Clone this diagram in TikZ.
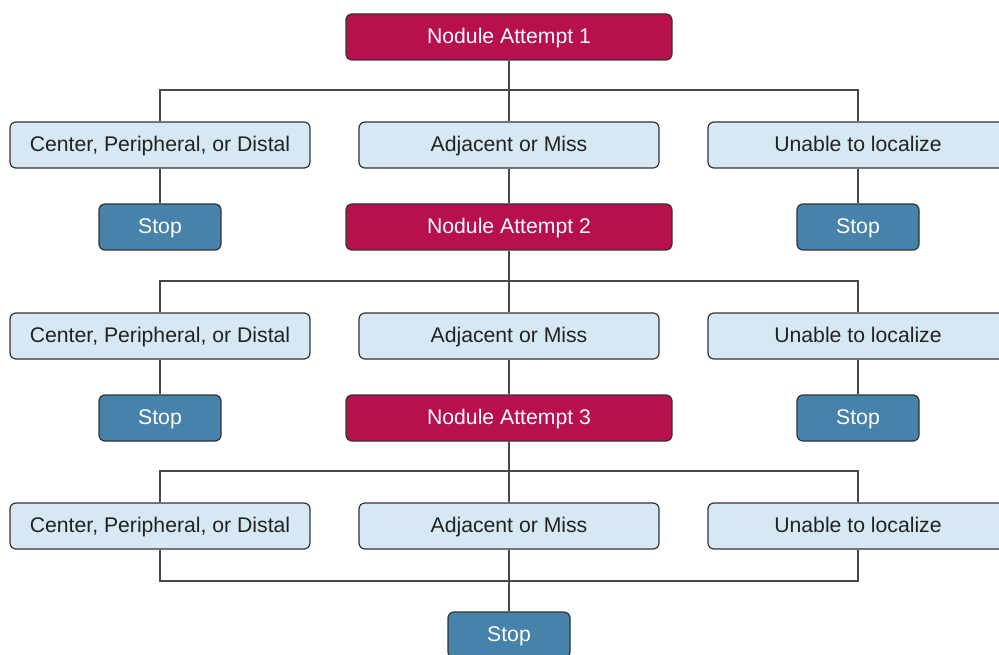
\documentclass[tikz,border=0pt]{standalone}
\usepackage{fontspec}
\setmainfont{Liberation Sans}
\definecolor{attempt}{HTML}{B8104E}
\definecolor{lightbox}{HTML}{D6E8F4}
\definecolor{stopblue}{HTML}{4682A9}
\definecolor{edge}{HTML}{333333}
\definecolor{txt}{HTML}{222222}
\begin{document}
\begin{tikzpicture}[x=1pt,y=-1pt,
  base/.style={draw=edge,line width=1.2pt,rounded corners=6pt,inner sep=0pt,
    minimum height=46pt,font=\fontsize{21.2}{25}\selectfont,text height=14pt,text depth=1pt},
  attemptbox/.style={base,fill=attempt,text=white,minimum width=326pt},
  outcome/.style={base,fill=lightbox,text=txt,minimum width=300pt},
  stopbox/.style={base,fill=stopblue,text=white,minimum width=122pt},
  conn/.style={draw=edge!90!white,line width=1.3pt}]
\useasboundingbox (0,0) rectangle (999,655);
\clip (0,0) rectangle (999,655);
\fill[white] (0,0) rectangle (999,655);
% level 1
\node[attemptbox] (a1) at (509,37) {Nodule Attempt 1};
\node[outcome] (l1) at (160,145) {Center, Peripheral, or Distal};
\node[outcome] (m1) at (509,145) {Adjacent or Miss};
\node[outcome] (r1) at (858,145) {Unable to localize};
\node[stopbox] (sl1) at (160,227) {Stop};
\node[attemptbox] (a2) at (509,227) {Nodule Attempt 2};
\node[stopbox] (sr1) at (858,227) {Stop};
% level 2
\node[outcome] (l2) at (160,336) {Center, Peripheral, or Distal};
\node[outcome] (m2) at (509,336) {Adjacent or Miss};
\node[outcome] (r2) at (858,336) {Unable to localize};
\node[stopbox] (sl2) at (160,418) {Stop};
\node[attemptbox] (a3) at (509,418) {Nodule Attempt 3};
\node[stopbox] (sr2) at (858,418) {Stop};
% level 3
\node[outcome] (l3) at (160,526) {Center, Peripheral, or Distal};
\node[outcome] (m3) at (509,526) {Adjacent or Miss};
\node[outcome] (r3) at (858,526) {Unable to localize};
\node[stopbox] (s3) at (509,635) {Stop};
% junctions
\coordinate (j1) at (509,90);
\coordinate (j2) at (509,281);
\coordinate (j3) at (509,471);
\coordinate (j4) at (509,581);
% connectors
\draw[conn] (a1) -- (m1);
\draw[conn] (l1) |- (j1) -| (r1);
\draw[conn] (l1) -- (sl1);
\draw[conn] (m1) -- (a2);
\draw[conn] (r1) -- (sr1);
\draw[conn] (a2) -- (m2);
\draw[conn] (l2) |- (j2) -| (r2);
\draw[conn] (l2) -- (sl2);
\draw[conn] (m2) -- (a3);
\draw[conn] (r2) -- (sr2);
\draw[conn] (a3) -- (m3);
\draw[conn] (l3) |- (j3) -| (r3);
\draw[conn] (l3) |- (j4) -| (r3);
\draw[conn] (m3) -- (s3);
\end{tikzpicture}
\end{document}
